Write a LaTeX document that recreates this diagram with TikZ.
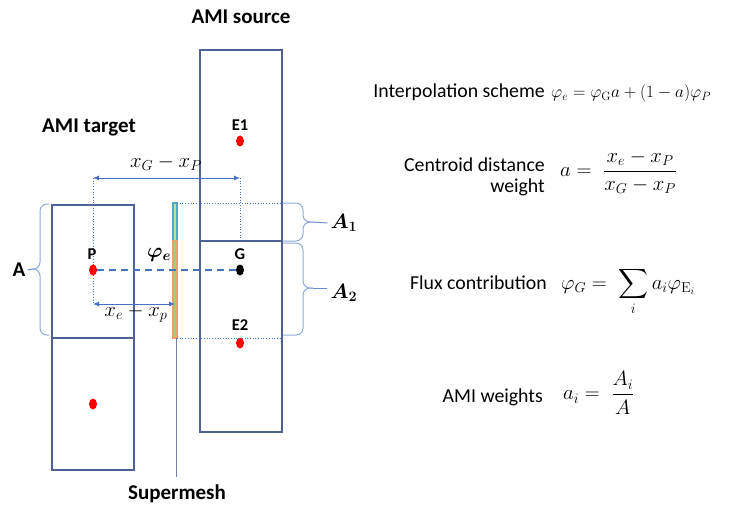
\documentclass[tikz,border=0pt]{standalone}
\usepackage{amsmath}
\usepackage{bm}
\usepackage[no-math]{fontspec}
\setmainfont{Carlito}
\usetikzlibrary{arrows.meta,shapes.geometric}
\definecolor{cellc}{RGB}{79,98,150}
\definecolor{lblue}{RGB}{68,114,196}
\definecolor{bracec}{RGB}{143,170,220}
\definecolor{smcyan}{RGB}{75,172,198}
\definecolor{smorange}{RGB}{240,160,100}
\definecolor{smgreen}{RGB}{160,205,120}
\begin{document}
\begin{tikzpicture}[x=1pt,y=-1pt,
  cell/.style={draw=cellc, line width=1.3pt},
  reddot/.style={ellipse, fill=red, minimum width=8pt, minimum height=11pt, inner sep=0pt},
  blackdot/.style={ellipse, fill=black, minimum width=8pt, minimum height=11pt, inner sep=0pt},
  title/.style={font=\fontsize{21}{24}\selectfont\bfseries, inner sep=1pt},
  ptlbl/.style={font=\fontsize{16.5}{20}\selectfont\bfseries, inner sep=0pt},
  mlbl/.style={font=\fontsize{19.5}{23}\selectfont, inner sep=0pt},
  txt/.style={font=\fontsize{19.8}{21}\selectfont, inner sep=0pt, align=right},
  eq/.style={font=\fontsize{20}{24}\selectfont, inner sep=0pt},
  eqs/.style={font=\fontsize{18.8}{22}\selectfont, inner sep=0pt},
  dimarrow/.style={draw=lblue, line width=0.8pt, {Latex[length=6pt,width=5pt]}-{Latex[length=6pt,width=5pt]}},
  dotline/.style={draw=lblue, line width=0.7pt, dotted},
  bracel/.style={draw=bracec, line width=1pt, rounded corners=7pt},
  tipline/.style={draw=lblue!80, line width=1pt}
]
\useasboundingbox (0,0) rectangle (747,508);

% cells
\draw[cell] (200,50) rectangle (282,432);
\draw[cell] (200,241) -- (282,241);
\draw[cell] (52,205) rectangle (134,470);
\draw[cell] (52,338) -- (134,338);

% supermesh
\draw[draw=smcyan, fill=smgreen!70, line width=1.1pt] (173,203) rectangle (177,241);
\draw[draw=smorange, fill=smgreen, line width=1.1pt] (173,241) rectangle (177,338);
\coordinate (smb) at (176,338);
\coordinate (sme) at (176,477);
\draw[draw=cellc!80, line width=0.8pt] (smb) -- (sme);

% dots
\node[reddot] (P) at (93,270) {};
\node[blackdot] (G) at (240,270) {};
\node[reddot] (E1) at (240,141) {};
\node[reddot] (E2) at (240,343) {};
\node[reddot] (Q) at (93,404) {};

% dashed line
\draw[draw=lblue, line width=2pt, dash pattern=on 7pt off 5pt] (P) -- (G);

% dimension lines
\coordinate (t1) at (93,178);
\coordinate (t2) at (240,178);
\coordinate (b1) at (93,304);
\coordinate (b2) at (175,304);
\coordinate (gl) at (240,242);
\draw[dotline] (t1) -- (b1);
\draw[dotline] (t2) -- (gl);
\draw[dimarrow] (t1) -- (t2);
\draw[dimarrow] (b1) -- (b2);
\coordinate (d1) at (177,203);
\coordinate (d2) at (283,203);
\coordinate (d3) at (177,338);
\coordinate (d4) at (283,338);
\draw[dotline] (d1) -- (d2);
\draw[dotline] (d3) -- (d4);

% labels
\node[title] (src) at (241,17) {AMI source};
\node[title] (tgt) at (89,127) {AMI target};
\node[title] (sup) at (177,494) {Supermesh};
\node[ptlbl] (lE1) at (240,125) {E1};
\node[ptlbl] (lP) at (92,254) {P};
\node[ptlbl] (lG) at (240,254) {G};
\node[ptlbl] (lE2) at (240,325) {E2};
\node[mlbl] (lxg) at (166,163) {$x_G-x_P$};
\node[mlbl] (lxe) at (136,313) {$x_e-x_p$};
\node[mlbl] (lphi) at (159,255) {$\bm{\varphi_e}$};

% braces
\node[title, inner sep=2pt] (lA) at (19,270) {A};
\coordinate (tA) at (32,269);
\draw[bracel] (49,204) -- (40,204) -- (40,269) -- (tA);
\draw[bracel] (49,335) -- (40,335) -- (40,269) -- (tA);
\draw[tipline] (tA) -- (lA.east);

\node[mlbl, inner sep=3pt] (lA1) at (344,223) {$\bm{A_1}$};
\coordinate (tA1) at (313,222);
\draw[bracel] (283,203) -- (303,203) -- (303,222) -- (tA1);
\draw[bracel] (283,241) -- (303,241) -- (303,222) -- (tA1);
\draw[tipline] (tA1) -- (lA1.west);

\node[mlbl, inner sep=3pt] (lA2) at (344,293) {$\bm{A_2}$};
\coordinate (tA2) at (313,288);
\draw[bracel] (283,243) -- (303,243) -- (303,288) -- (tA2);
\draw[bracel] (283,335) -- (303,335) -- (303,288) -- (tA2);
\draw[tipline] (tA2) -- (lA2.west |- tA2);

% right side
\node[txt, anchor=base east] (t1txt) at (545,98) {Interpolation scheme};
\node[eqs, anchor=base west] (e1) at (551,98) {$\varphi_e=\varphi_{\mathrm{G}}a+(1-a)\varphi_P$};
\node[txt, anchor=east] (t2txt) at (545,177) {Centroid distance\\weight};
\node[eq, anchor=west] (e2) at (560,172) {$a=\;\dfrac{x_e-x_P}{x_G-x_P}$};
\node[txt, anchor=base east] (t3txt) at (547,289) {Flux contribution};
\node[eq, anchor=base west] (e3) at (561,289) {$\varphi_G=\;\displaystyle\sum_i a_i\varphi_{\mathrm{E}_i}$};
\node[txt, anchor=base east] (t4txt) at (543,402) {AMI weights};
\node[eq, anchor=west] (e4) at (563,393) {$a_i=\;\dfrac{A_i}{A}$};
\end{tikzpicture}
\end{document}
